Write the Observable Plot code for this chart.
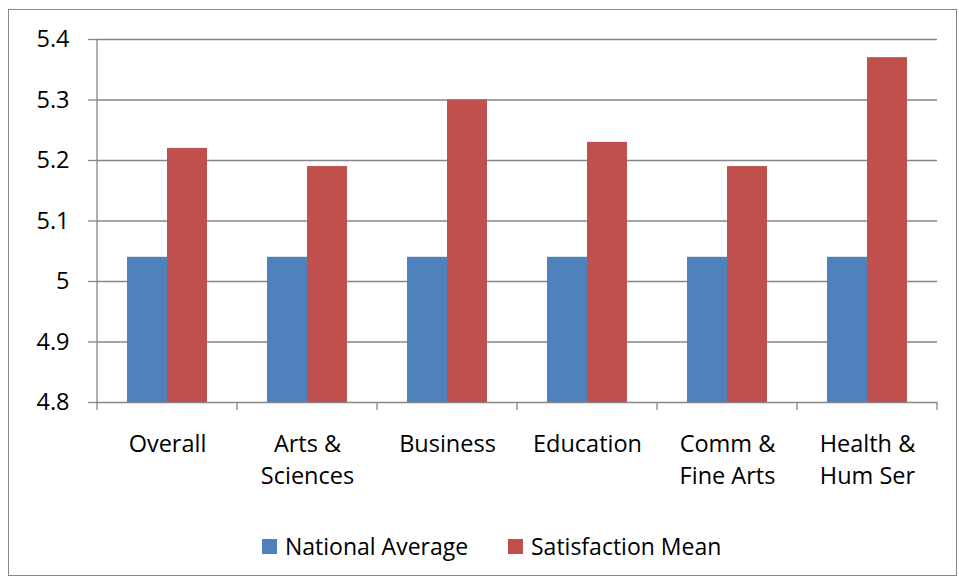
<!DOCTYPE html>
<html>
<head>
<meta charset="utf-8">
<script src="https://cdn.jsdelivr.net/npm/d3@7"></script>
<script src="https://cdn.jsdelivr.net/npm/@observablehq/plot@0.6"></script>
<style>
  html, body { margin: 0; padding: 0; background: #fff; }
  #wrap { position: relative; width: 959px; height: 580px; font-family: "Open Sans", sans-serif; }
  #border { position: absolute; left: 8px; top: 9px; width: 949px; height: 567px; border: 1.5px solid #868686; box-sizing: border-box; }
  #chart { position: absolute; left: 0; top: 0; }
  #legend { position: absolute; top: 529px; left: 0; width: 959px; font-size: 23px; color: #000; }
  .item { position: absolute; top: 0; display: flex; align-items: center; height: 34px; white-space: nowrap; }
  .sw { width: 15px; height: 15px; margin-right: 8px; }
</style>
</head>
<body>
<div id="wrap">
  <div id="border"></div>
  <div id="chart"></div>
  <div id="legend"></div>
</div>
<script>
const categories = ["Overall", "Arts &\nSciences", "Business", "Education", "Comm &\nFine Arts", "Health &\nHum Ser"];
const series = ["National Average", "Satisfaction Mean"];
const nationalAverage = [5.04, 5.04, 5.04, 5.04, 5.04, 5.04];
const satisfactionMean = [5.22, 5.19, 5.30, 5.23, 5.19, 5.37];
const yTicks = [4.8, 4.9, 5.0, 5.1, 5.2, 5.3, 5.4];
const yTickLabels = ["4.8", "4.9", "5", "5.1", "5.2", "5.3", "5.4"];
const colors = ["#4F81BD", "#C0504D"];
const yMin = 4.8;

const data = [];
categories.forEach((c, i) => {
  data.push({category: c, series: series[0], value: nationalAverage[i]});
  data.push({category: c, series: series[1], value: satisfactionMean[i]});
});

const gray = "#868686";

const plot = Plot.plot({
  width: 959,
  height: 480,
  marginLeft: 96,
  marginRight: 21,
  marginTop: 39,
  marginBottom: 78,
  style: {fontFamily: "Open Sans", fontSize: "23.5px", color: "#000", background: "transparent", overflow: "visible"},
  fx: {domain: categories, padding: 0, label: null},
  x: {domain: series, paddingInner: 0, paddingOuter: 0.75, axis: null},
  y: {domain: [4.8, 5.4], label: null},
  color: {domain: series, range: colors},
  marks: [
    Plot.gridY(yTicks, {stroke: gray, strokeOpacity: 1, strokeWidth: 1.3}),
    Plot.axisY(yTicks, {anchor: "left", tickSize: 9, tickPadding: 19, stroke: gray, strokeOpacity: 1, strokeWidth: 1.3,
      tickFormat: (d) => yTickLabels[yTicks.indexOf(d)], fill: "#000", fontSize: 23.5, label: null}),
    Plot.barY(data, {fx: "category", x: "series", y1: yMin, y2: "value", fill: "series"}),
    Plot.axisFx({anchor: "bottom", tickSize: 0, tickPadding: 27, lineHeight: 1.36, fontSize: 23.5, fill: "#000", label: null})
  ]
});

document.getElementById("chart").appendChild(plot);

// axis line and category boundary ticks, positioned with Plot's own scales
const svg = d3.select(plot);
const fx = plot.scale("fx");
const y = plot.scale("y");
const yTop = y.apply(5.4), yBot = y.apply(yMin);
const bounds = categories.map(c => fx.apply(c));
const last = bounds[bounds.length - 1] + fx.bandwidth;
const g = svg.append("g").attr("stroke", gray).attr("stroke-width", 1.3);
g.append("line").attr("x1", bounds[0]).attr("x2", bounds[0]).attr("y1", yTop).attr("y2", yBot);
[...bounds, last].forEach(x => {
  g.append("line").attr("x1", x).attr("x2", x).attr("y1", yBot).attr("y2", yBot + 8);
});

// legend
const legend = document.getElementById("legend");
const legendLeft = [262, 508];
series.forEach((s, i) => {
  const it = document.createElement("div");
  it.className = "item";
  it.style.left = legendLeft[i] + "px";
  it.innerHTML = `<span class="sw" style="background:${colors[i]}"></span><span>${s}</span>`;
  legend.appendChild(it);
});
</script>
</body>
</html>
